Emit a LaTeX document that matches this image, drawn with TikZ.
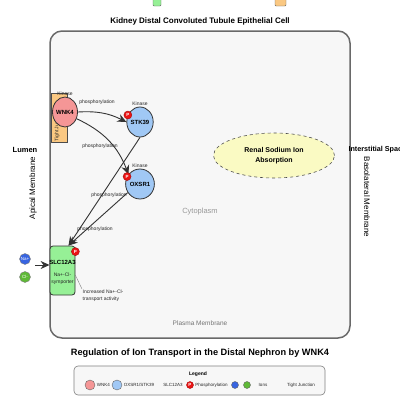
\documentclass[tikz,border=0pt]{standalone}
\usepackage{fontspec}
\setmainfont{Liberation Sans}
\usepackage{tikz}
\usetikzlibrary{arrows.meta, positioning, shapes.geometric}
\usepackage{xcolor}
\definecolor{cellfill}{RGB}{247, 247, 247}
\definecolor{cellline}{RGB}{105, 105, 105}
\definecolor{wnkfill}{RGB}{245, 150, 150}
\definecolor{kinfill}{RGB}{160, 200, 245}
\definecolor{slcfill}{RGB}{150, 240, 150}
\definecolor{tjfill}{RGB}{250, 200, 130}
\definecolor{absfill}{RGB}{250, 250, 195}
\definecolor{nafill}{RGB}{55, 100, 225}
\definecolor{clfill}{RGB}{95, 185, 55}
\definecolor{pfill}{RGB}{235, 20, 20}
\newcommand{\fsz}[1]{\fontsize{#1}{#1}\selectfont}

\tikzset{
  protein/.style={ellipse, draw=black!80, line width=0.8pt, minimum width=26pt, minimum height=30pt, inner sep=0pt, font=\fsz{6}\bfseries},
  tag/.style={font=\fsz{5}, text=black!85, inner sep=0.5pt},
  pbadge/.style={circle, fill=pfill, draw=pfill!70!black, line width=0.4pt, minimum size=8pt, inner sep=0pt, text=white, font=\fsz{4.5}\bfseries},
  ion/.style={circle, draw=black!50, line width=0.4pt, minimum size=11pt, inner sep=0pt, text=white, font=\fsz{4.5}},
  react/.style={-{Stealth[length=9pt, width=8pt]}, line width=0.9pt, black!80},
  region/.style={font=\fsz{8}},
  keydot/.style={circle, draw=black!60, line width=0.4pt, inner sep=0pt}
}

\begin{document}
\begin{tikzpicture}[x=1pt, y=-1pt]
  \useasboundingbox (0,0) rectangle (400,400);
  % cut-off keys at the top
  \draw[fill=slcfill, draw=black!60, rounded corners=1pt] (153,-4) rectangle (161,6);
  \draw[fill=tjfill, draw=black!60, rounded corners=1pt] (275,-4) rectangle (286,6);

  \node[font=\fsz{8}\bfseries] (title) at (200,21) {Kidney Distal Convoluted Tubule Epithelial Cell};
  \draw[cellline, line width=1.5pt, fill=cellfill, rounded corners=12pt] (50,31) rectangle (350,338);

  \node[font=\fsz{7.5}\bfseries] (lumen) at (25,150) {Lumen};
  \node[region, rotate=90] (apical) at (33,188) {Apical Membrane};
  \node[font=\fsz{7.2}\bfseries, anchor=west] (inter) at (345,150) {Interstitial Space};
  \node[region, rotate=-90] (baso) at (367,197) {Basolateral Membrane};
  \node[font=\fsz{7.5}, text=black!40] (cyto) at (200,212) {Cytoplasm};
  \node[font=\fsz{6.5}, text=black!55] (plasma) at (200,323) {Plasma Membrane};

  % tight junction under WNK4
  \node[draw=black!70, fill=tjfill, line width=0.5pt, minimum width=16pt, minimum height=49pt, inner sep=0pt] (tj) at (59,117.5) {};
  \node[tag, rotate=90] (tjtext) at (57,126) {Tight Junction};

  \node[protein, fill=wnkfill, minimum width=25pt] (wnk) at (65,112) {WNK4};
  \node[tag] (wnkkin) at (65,94) {Kinase};
  \node[protein, fill=kinfill] (stk) at (140,122) {STK39};
  \node[tag, above=0pt of stk] (stkkin) {Kinase};
  \node[protein, fill=kinfill] (oxs) at (140,184) {OXSR1};
  \node[tag, above=0pt of oxs] (oxskin) {Kinase};

  \node[draw=black!80, line width=0.8pt, fill=slcfill, rounded corners=3pt, minimum width=25pt, minimum height=49pt, inner sep=0pt] (slc) at (62.5,270.5) {};
  \node[font=\fsz{6}\bfseries] (slcname) at (62.5,262) {SLC12A3};
  \node[tag, align=center] (slctext) at (62.5,279) {Na+-Cl-\\[2pt]symporter};

  \draw[react] (wnk.east) to[bend left=15] (stk.west);
  \draw[react] (wnk.-30) to[bend left=22] (oxs.140);
  \draw[react] (stk.south) -- ([xshift=6pt]slc.north);
  \draw[react] (oxs.215) -- ([xshift=6pt]slc.north);
  \node[tag] (phos1) at (97,102) {phosphorylation};
  \node[tag] (phos2) at (100,146) {phosphorylation};
  \node[tag] (phos3) at (109,195) {phosphorylation};
  \node[tag] (phos4) at (95,229) {phosphorylation};

  \node[pbadge] (pstk) at (stk.150) {P};
  \node[pbadge] (poxs) at (oxs.150) {P};
  \node[pbadge] (pslc) at ([yshift=-6pt]slc.north east) {P};

  \node[ion, fill=nafill] (na) at (25,259) {Na+};
  \node[ion, fill=clfill] (cl) at (25,277) {Cl-};
  \coordinate (ionin) at (35,265);
  \draw[react] (ionin) -- (ionin -| slc.west);

  \node[tag, align=left, anchor=north west] (note) at (82,289) {Increased Na+-Cl-\\[2pt]transport activity};
  \draw[black!50, line width=0.4pt] (slc.-20) -- (note.north west);

  \node[ellipse, draw=black!70, dashed, fill=absfill, line width=0.6pt, minimum width=121pt, minimum height=45pt, align=center, font=\fsz{7}\bfseries] (absorb) at (274,155.5) {Renal Sodium Ion\\[3pt]Absorption};

  \node[font=\fsz{9.2}\bfseries] (subtitle) at (200,353) {Regulation of Ion Transport in the Distal Nephron by WNK4};

  % legend
  \draw[fill=cellfill, draw=black!50, line width=0.6pt, rounded corners=4pt] (74,366) rectangle (325,395);
  \node[font=\fsz{5}\bfseries] (legend) at (198,374) {Legend};
  \node[keydot, fill=wnkfill, minimum size=10pt] (kwnk) at (90,385) {};
  \node[tag, font=\fsz{4.5}, right=1pt of kwnk] (lwnk) {WNK4};
  \node[keydot, fill=kinfill, minimum size=10pt] (kkin) at (117,385) {};
  \node[tag, font=\fsz{4.5}, right=1pt of kkin] (lkin) {OXSR1/STK39};
  \node[tag, font=\fsz{4.5}] (lslc) at (173,385) {SLC12A3};
  \node[pbadge, minimum size=7pt] (kp) at (190,385) {P};
  \node[tag, font=\fsz{4.5}, right=1pt of kp] (lp) {Phosphorylation};
  \node[keydot, fill=nafill, minimum size=7pt] (kna) at (235,385) {};
  \node[keydot, fill=clfill, minimum size=7pt] (kcl) at (247,385) {};
  \node[tag, font=\fsz{4.5}] (lion) at (263,385) {Ions};
  \node[tag, font=\fsz{4.5}] (ltj) at (301,385) {Tight Junction};
\end{tikzpicture}
\end{document}
